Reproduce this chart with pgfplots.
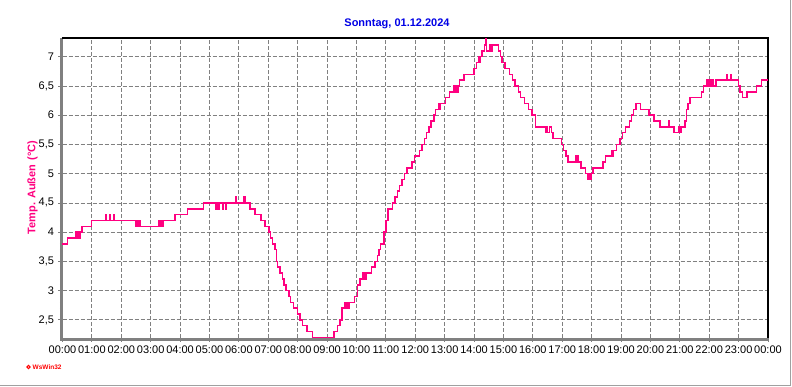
\documentclass[border=0pt]{standalone}
\usepackage{fontspec}
\setmainfont{Liberation Sans}
\usepackage{pgfplots}
\pgfplotsset{compat=1.18}
\usepackage{pgfplotstable}
\definecolor{linepink}{RGB}{255,0,128}
\definecolor{titleblue}{RGB}{0,0,230}
\definecolor{gridgray}{RGB}{128,128,128}
\definecolor{framegray}{RGB}{160,160,160}

\pgfplotstableread{
h t
0.00 3.8
0.17 3.9
0.45 4.0
0.48 3.9
0.52 4.0
0.55 3.9
0.60 4.0
0.66 4.1
0.99 4.2
1.46 4.3
1.49 4.2
1.61 4.3
1.64 4.2
1.74 4.3
1.77 4.2
2.50 4.1
2.54 4.2
2.57 4.1
2.62 4.2
2.65 4.1
3.26 4.2
3.29 4.1
3.33 4.2
3.37 4.1
3.42 4.2
3.83 4.3
4.26 4.4
4.79 4.5
5.22 4.4
5.25 4.5
5.31 4.4
5.34 4.5
5.45 4.4
5.48 4.5
5.55 4.4
5.58 4.5
5.89 4.6
5.92 4.5
6.18 4.6
6.21 4.5
6.38 4.4
6.55 4.3
6.75 4.2
6.89 4.1
7.03 4.0
7.08 3.9
7.15 3.8
7.23 3.7
7.28 3.5
7.31 3.4
7.40 3.3
7.48 3.2
7.53 3.1
7.60 3.0
7.68 2.9
7.71 3.0
7.73 2.9
7.76 2.8
7.85 2.7
7.99 2.6
8.08 2.5
8.16 2.4
8.31 2.3
8.50 2.2
9.23 2.3
9.35 2.4
9.44 2.5
9.50 2.7
9.61 2.8
9.64 2.7
9.68 2.8
9.71 2.7
9.75 2.8
9.93 2.9
10.03 3.1
10.12 3.2
10.20 3.3
10.24 3.2
10.28 3.3
10.31 3.2
10.35 3.3
10.52 3.4
10.63 3.5
10.71 3.6
10.77 3.7
10.82 3.8
10.94 4.0
11.00 4.2
11.08 4.4
11.22 4.5
11.31 4.6
11.39 4.7
11.46 4.8
11.55 4.9
11.63 5.0
11.72 5.1
11.89 5.2
11.97 5.3
12.15 5.4
12.23 5.5
12.31 5.6
12.38 5.7
12.46 5.8
12.54 5.9
12.63 6.0
12.69 6.1
12.80 6.2
12.83 6.1
12.86 6.2
13.03 6.3
13.17 6.4
13.31 6.5
13.35 6.4
13.39 6.5
13.43 6.4
13.47 6.5
13.50 6.6
13.65 6.7
13.99 6.8
14.08 6.9
14.16 7.0
14.20 6.9
14.22 7.0
14.27 7.1
14.35 7.2
14.39 7.3
14.41 7.2
14.43 7.1
14.55 7.2
14.58 7.1
14.61 7.2
14.84 7.1
14.90 7.0
14.95 6.9
15.05 6.8
15.20 6.7
15.30 6.6
15.40 6.5
15.52 6.4
15.58 6.3
15.72 6.2
15.85 6.1
15.97 6.0
16.09 5.8
16.43 5.7
16.47 5.8
16.50 5.7
16.56 5.8
16.64 5.7
16.69 5.6
16.98 5.5
17.04 5.4
17.13 5.3
17.20 5.2
17.46 5.3
17.50 5.2
17.52 5.3
17.55 5.2
17.63 5.1
17.80 5.0
17.88 4.9
17.93 5.0
17.95 4.9
17.99 5.0
18.05 5.1
18.39 5.2
18.48 5.3
18.67 5.4
18.72 5.3
18.75 5.4
18.85 5.5
18.96 5.6
19.05 5.7
19.16 5.8
19.28 5.9
19.36 6.0
19.42 6.1
19.51 6.2
19.67 6.1
19.96 6.0
20.12 5.9
20.32 5.8
20.61 5.9
20.64 5.8
20.81 5.7
20.98 5.8
21.00 5.7
21.06 5.8
21.17 5.9
21.23 6.1
21.28 6.2
21.34 6.3
21.74 6.4
21.80 6.5
21.91 6.6
21.95 6.5
22.00 6.6
22.05 6.5
22.10 6.6
22.15 6.5
22.23 6.6
22.60 6.7
22.63 6.6
22.72 6.7
22.75 6.6
22.99 6.5
23.05 6.4
23.14 6.3
23.29 6.4
23.61 6.5
23.78 6.6
24.00 6.6
}\tempdata

\begin{document}
\begin{tikzpicture}
\useasboundingbox (0bp,0bp) rectangle (792bp,387bp);
\fill[white] (0bp,0bp) rectangle (792bp,387bp);
\draw[framegray, line width=1.5bp] (0bp,1.5bp) -- (790.5bp,1.5bp) -- (790.5bp,387bp);
\begin{axis}[
  at={(62.5bp,49bp)}, anchor=south west,
  scale only axis, width=705.5bp, height=300bp,
  xmin=0, xmax=24, ymin=2.19, ymax=7.32,
  xtick={0,1,...,24},
  xticklabels={00:00,01:00,02:00,03:00,04:00,05:00,06:00,07:00,08:00,09:00,10:00,11:00,12:00,13:00,14:00,15:00,16:00,17:00,18:00,19:00,20:00,21:00,22:00,23:00,00:00},
  ytick={2.5,3,3.5,4,4.5,5,5.5,6,6.5,7},
  yticklabels={{2,5},3,{3,5},4,{4,5},5,{5,5},6,{6,5},7},
  minor x tick num=5, minor y tick num=4,
  tick align=outside,
  major tick length=4bp, minor tick length=2.5bp,
  every tick/.style={gridgray, line width=0.8bp},
  grid=major,
  major grid style={gridgray, dash pattern=on 4bp off 2bp, line width=0.8bp},
  axis x line*=bottom, axis y line*=left,
  x axis line style={draw=none},
  y axis line style={draw=none},
  ticklabel style={font=\fontsize{11bp}{13bp}\selectfont, text=black},
  xticklabel style={yshift=-0.5bp},
  yticklabel style={xshift=-1bp},
  clip=false,
]
\draw[gridgray, line width=2.6bp] ([xshift=-1.1bp]rel axis cs:0,1) -- ([xshift=-1.1bp,yshift=-1.3bp]rel axis cs:0,0) -- ([yshift=-1.3bp]rel axis cs:1,0);
\draw[black, line width=1.5bp] (rel axis cs:0,1) -- (rel axis cs:1,1) -- (rel axis cs:1,0);
\addplot[const plot, linepink, line width=1.5bp] table[x=h,y=t]{\tempdata};
\end{axis}
\node[font=\bfseries\fontsize{11bp}{13bp}\selectfont, text=titleblue] at (397bp,363bp) {Sonntag, 01.12.2024};
\node[font=\bfseries\fontsize{11bp}{13bp}\selectfont, text=linepink, rotate=90] at (32.5bp,199.5bp) {Temp. Außen\hspace{0.4em}(°C)};
\draw[red, line width=1.2bp] (28.5bp,20bp) circle (1.6bp);
\node[font=\bfseries\fontsize{6.5bp}{8bp}\selectfont, text=red, anchor=west, inner sep=0pt] at (32.5bp,20bp) {WsWin32};
\end{tikzpicture}
\end{document}
